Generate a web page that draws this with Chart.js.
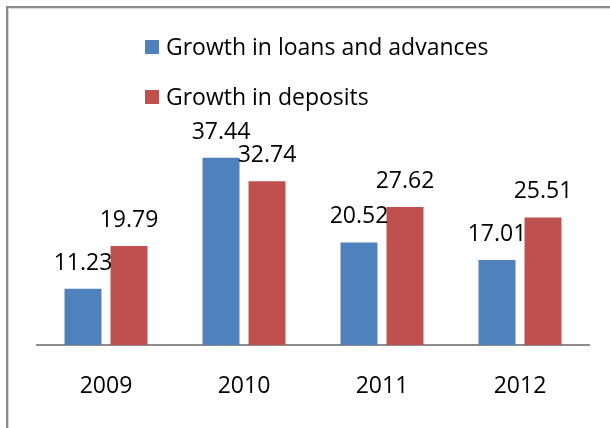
<!DOCTYPE html>
<html>
<head>
<meta charset="utf-8">
<script src="https://cdn.jsdelivr.net/npm/chart.js@4/dist/chart.umd.min.js"></script>
<style>
  html, body { margin: 0; padding: 0; background: #fff; overflow: hidden; }
  #wrap { position: relative; width: 610px; height: 428px; }
  #frame {
    position: absolute; left: 6px; top: 6px; width: 640px; height: 460px;
    border: 2px solid #8c8c8c; box-shadow: inset 1px 1px 0 #d9d9d9;
    pointer-events: none;
  }
  canvas { position: absolute; left: 0; top: 0; }
</style>
</head>
<body>
<div id="wrap">
  <canvas id="chart" width="610" height="428"></canvas>
  <div id="frame"></div>
</div>
<script>
const years = ['2009', '2010', '2011', '2012'];
const loansGrowth = [11.23, 37.44, 20.52, 17.01];
const depositsGrowth = [19.79, 32.74, 27.62, 25.51];
const seriesNames = ['Growth in loans and advances', 'Growth in deposits'];
const seriesColors = ['#4F81BD', '#C0504D'];

const FONT = "'Open Sans', 'Liberation Sans', sans-serif";

// value printed above every bar
const valueLabels = {
  id: 'valueLabels',
  afterDatasetsDraw(chart) {
    const ctx = chart.ctx;
    ctx.save();
    ctx.font = '23px ' + FONT;
    ctx.fillStyle = '#000';
    ctx.textAlign = 'center';
    ctx.textBaseline = 'alphabetic';
    chart.data.datasets.forEach((ds, i) => {
      chart.getDatasetMeta(i).data.forEach((bar, j) => {
        ctx.fillText(ds.data[j].toFixed(2), bar.x, bar.y - 19);
      });
    });
    ctx.restore();
  }
};

// stacked series key in the upper part of the chart
const seriesKey = {
  id: 'seriesKey',
  afterDraw(chart) {
    const ctx = chart.ctx;
    ctx.save();
    ctx.font = '23px ' + FONT;
    ctx.textAlign = 'left';
    ctx.textBaseline = 'middle';
    chart.data.datasets.forEach((ds, i) => {
      const cy = 47 + i * 50;
      ctx.fillStyle = ds.backgroundColor;
      ctx.fillRect(145, cy - 7, 14, 14);
      ctx.fillStyle = '#000';
      ctx.fillText(ds.label, 166, cy + 1);
    });
    ctx.restore();
  }
};

new Chart(document.getElementById('chart'), {
  type: 'bar',
  data: {
    labels: years,
    datasets: [
      { label: seriesNames[0], data: loansGrowth, backgroundColor: seriesColors[0] },
      { label: seriesNames[1], data: depositsGrowth, backgroundColor: seriesColors[1] }
    ]
  },
  options: {
    responsive: false,
    animation: false,
    devicePixelRatio: 1,
    layout: { padding: { left: 37, right: 21, top: 145, bottom: 27 } },
    datasets: { bar: { categoryPercentage: 0.6667, barPercentage: 0.804 } },
    scales: {
      x: {
        grid: { display: false, drawTicks: false },
        border: { display: true, color: '#8c8c8c', width: 2 },
        ticks: { color: '#000', padding: 28, font: { family: FONT, size: 23 } },
        afterFit(scale) { scale.height = 56; }
      },
      y: { display: false, min: 0, max: 40 }
    },
    plugins: { legend: { display: false }, tooltip: { enabled: false } }
  },
  plugins: [valueLabels, seriesKey]
});
</script>
</body>
</html>
